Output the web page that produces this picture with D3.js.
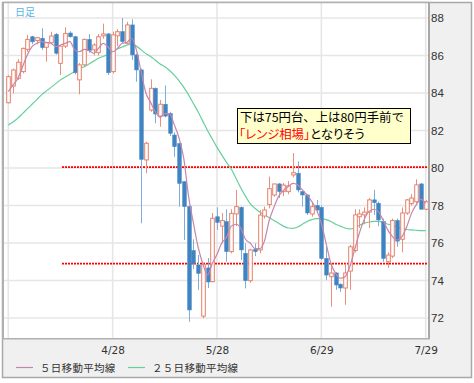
<!DOCTYPE html>
<html><head><meta charset="utf-8">
<script src="https://cdn.jsdelivr.net/npm/d3@7/dist/d3.min.js"></script>
<style>body{margin:0;background:#f0f0f0}svg{display:block}.palt{font-feature-settings:"palt" 1}</style>
</head><body><svg id="c" width="474" height="383"></svg>
<script>
// ---- data ----
const opens  = [83.48,84.37,84.78,85.14,86.33,87.0,86.8,86.92,86.44,86.68,87.13,85.58,86.5,87.2,87.0,84.7,85.5,86.86,86.3,86.15,87.05,87.15,85.14,87.05,87.27,86.65,87.63,86.03,85.23,80.43,83.09,84.25,82.77,83.4,82.9,81.76,81.3,79.27,77.94,75.6,74.83,72.1,74.67,73.94,77.4,76.9,77.14,75.54,77.55,77.9,75.45,73.99,75.66,75.63,77.44,78.05,78.56,79.15,78.74,78.74,79.63,79.72,78.74,78.56,77.55,78.0,77.9,75.18,74.2,74.4,73.8,73.6,74.5,75.6,77.4,77.5,77.65,78.3,78.12,77.14,75.0,75.3,77.2,76.2,77.6,78.1,78.2,79.15,77.8];
const highs  = [84.95,85.3,85.8,86.42,87.1,87.05,87.0,87.45,86.72,87.27,87.2,86.55,87.5,87.3,87.05,85.6,86.9,87.14,86.65,87.15,87.7,87.2,87.27,87.4,88.0,87.8,87.93,86.1,85.3,81.4,84.73,84.3,83.63,84.4,83.0,81.9,81.35,79.3,78.0,76.2,75.36,74.95,75.2,77.6,77.9,77.6,77.8,77.8,78.83,77.95,75.98,75.7,75.98,77.76,77.94,79.54,79.0,79.2,79.2,79.3,80.8,80.35,78.8,78.6,78.2,78.3,78.0,75.8,74.9,74.45,73.85,74.9,75.9,77.8,77.8,77.9,78.4,78.83,78.2,77.3,75.5,77.3,77.3,77.9,78.35,78.6,79.4,79.2,78.3];
const lows   = [83.45,83.98,84.7,85.05,86.2,86.6,86.6,86.3,85.67,86.6,86.05,84.96,86.4,86.95,85.0,83.93,85.45,86.15,86.0,86.0,86.9,84.96,85.05,86.5,86.65,86.6,85.76,84.6,77.05,79.72,83.0,82.38,82.2,82.7,81.7,80.6,77.94,76.16,71.8,74.6,73.5,71.98,73.6,73.9,76.7,75.98,75.0,75.45,76.9,75.09,73.58,73.88,75.3,75.45,77.3,77.85,78.47,78.4,78.5,78.6,79.5,78.7,77.94,77.5,77.4,77.6,75.09,74.03,72.6,73.5,73.4,72.7,73.5,75.5,76.8,77.0,76.8,77.5,76.9,75.0,74.67,75.2,75.8,75.5,77.5,78.0,78.1,77.8,77.75];
const closes = [84.87,85.23,85.64,86.38,86.86,86.73,86.95,86.42,86.68,87.04,86.12,86.5,87.18,87.0,85.08,85.5,86.86,86.26,86.56,87.0,87.15,85.08,87.1,87.27,86.74,87.63,86.03,85.23,80.46,81.32,84.25,82.88,83.4,82.77,81.85,81.14,79.18,77.94,72.43,74.9,74.38,74.85,73.92,77.32,77.1,77.2,75.54,77.58,77.94,75.63,73.99,75.63,75.54,77.49,77.76,78.9,79.15,78.74,79.09,79.05,79.75,78.83,78.56,77.6,77.94,77.76,75.18,74.29,74.4,73.76,73.6,74.4,75.8,77.5,77.55,77.65,78.3,78.15,77.23,75.18,75.36,77.2,76.1,77.6,78.3,78.4,79.1,77.8,78.2];
const ma5  = [84.07,84.43,84.78,85.4,86.03,86.47,86.65,86.74,86.7,86.65,86.47,86.56,86.65,86.74,86.3,86.2,86.33,86.26,86.12,86.38,86.65,86.47,86.2,86.38,86.65,86.7,86.92,86.3,85.14,84.0,83.5,83.0,82.7,82.9,82.9,82.3,81.6,80.5,78.5,77.1,75.8,74.9,74.3,74.9,75.4,76.0,76.3,76.9,77.0,76.8,76.2,76.0,75.7,75.7,76.1,77.2,77.9,78.5,78.8,79.0,79.18,79.1,78.83,78.56,78.2,77.76,77.05,75.98,74.92,74.38,74.12,74.2,74.74,75.63,76.52,77.23,77.67,77.8,77.67,77.23,76.7,76.34,76.16,76.34,76.87,77.58,78.03,78.33,78.12];
const ma25 = [82.3,82.45,82.65,82.9,83.15,83.4,83.65,83.9,84.1,84.3,84.5,84.7,84.85,85.0,85.15,85.3,85.4,85.55,85.7,85.85,85.95,86.05,86.2,86.35,86.45,86.55,86.6,86.5,86.3,86.1,85.95,85.75,85.55,85.4,85.2,84.95,84.65,84.3,83.9,83.45,83.0,82.5,82.0,81.55,81.1,80.7,80.3,79.95,79.45,78.95,78.5,78.1,77.85,77.65,77.5,77.35,77.2,77.05,76.9,76.8,76.78,76.85,77.0,77.15,77.25,77.3,77.3,77.25,77.15,77.0,76.9,76.8,76.75,76.8,76.95,77.05,77.12,77.15,77.15,77.1,77.0,76.95,76.85,76.78,76.72,76.7,76.68,76.66,76.66];
const tickIdx    = [0, 22, 44, 66, 88];
const tickLabels = ["", "4/28", "5/28", "6/29", "7/29"];
const yTicks     = [72, 74, 76, 78, 80, 82, 84, 86, 88];
const rangeLines = [80.05, 74.9];
const legendNames = ["５日移動平均線", "２５日移動平均線"];
const noteLine1 = "下は75円台、上は80円手前で";
const noteRed = "「レンジ相場」";
const noteRest = "となりそう";

// ---- drawing ----
const svg = d3.select("#c");
const W = 474, H = 383;
const P = {l: 4, t: 3, r: 428, b: 338};
const x = d3.scaleLinear().domain([0, opens.length - 1]).range([8.3, 425.7]);
const y = d3.scaleLinear().domain([72, 88]).range([318, 18]);

svg.append("rect").attr("x",0).attr("y",0).attr("width",W).attr("height",H).attr("fill","#ffffff");
svg.append("rect").attr("x",2.5).attr("y",2.5).attr("width",469).attr("height",375)
  .attr("fill","#f0f0f0").attr("stroke","#a8a8a8").attr("stroke-width",1.5);
svg.append("rect").attr("x",P.l).attr("y",P.t).attr("width",P.r-P.l).attr("height",P.b-P.t)
  .attr("fill","#ffffff");

svg.append("defs").append("clipPath").attr("id","clip")
  .append("rect").attr("x",P.l).attr("y",P.t).attr("width",P.r-P.l).attr("height",P.b-P.t);

const g = svg.append("g").attr("clip-path","url(#clip)");

// grid
g.selectAll(".hg").data(yTicks).join("line")
  .attr("x1",P.l).attr("x2",P.r).attr("y1",d=>y(d)).attr("y2",d=>y(d))
  .attr("stroke","#e6e6e6").attr("stroke-width",1.6);
g.selectAll(".vg").data(tickIdx).join("line")
  .attr("x1",d=>x(d)).attr("x2",d=>x(d)).attr("y1",P.t).attr("y2",P.b)
  .attr("stroke","#e6e6e6").attr("stroke-width",1.6);

// range lines
g.selectAll(".rl").data(rangeLines).join("line")
  .attr("x1",62).attr("x2",P.r).attr("y1",d=>y(d)).attr("y2",d=>y(d))
  .attr("stroke","#ff0000").attr("stroke-width",1.8).attr("stroke-dasharray","2,1");

// MA lines
const line = d3.line().x((d,i)=>x(i)).y(d=>y(d)).curve(d3.curveMonotoneX);
g.append("path").attr("d",line(ma25)).attr("fill","none").attr("stroke","#66cf9c").attr("stroke-width",1.2);

// candles
const idx = d3.range(opens.length);
const up = i => closes[i] >= opens[i];
const bw = 3.6;
g.selectAll(".wick").data(idx).join("line")
  .attr("x1",i=>Math.round(x(i))+0.5).attr("x2",i=>Math.round(x(i))+0.5)
  .attr("y1",i=>y(highs[i])).attr("y2",i=>y(lows[i]))
  .attr("stroke",i=>up(i)?"#e8907c":"#7eaed9").attr("stroke-width",1);
g.selectAll(".body").data(idx).join("rect")
  .attr("x",i=>Math.round(x(i))+0.5-bw/2)
  .attr("y",i=>y(Math.max(opens[i],closes[i])))
  .attr("width",bw)
  .attr("height",i=>Math.max(1,Math.abs(y(opens[i])-y(closes[i]))))
  .attr("fill",i=>up(i)?"#ffffff":"#3f83c1")
  .attr("stroke",i=>up(i)?"#e6806a":"#4a8cc8")
  .attr("stroke-width",i=>up(i)?1:0.6);

g.append("path").attr("d",line(ma5)).attr("fill","none").attr("stroke","#c984ab").attr("stroke-width",1.2);

// plot border
svg.append("line").attr("x1",P.l-1).attr("x2",P.l-1).attr("y1",P.t).attr("y2",P.b+1).attr("stroke","#b0b0b0").attr("stroke-width",2);
svg.append("line").attr("x1",P.l).attr("x2",P.r+1).attr("y1",P.t-0.5).attr("y2",P.t-0.5).attr("stroke","#b0b0b0").attr("stroke-width",1.5);
svg.append("line").attr("x1",P.r+1).attr("x2",P.r+1).attr("y1",P.t).attr("y2",P.b+1).attr("stroke","#a8a8a8").attr("stroke-width",2);
svg.append("line").attr("x1",P.l-2).attr("x2",P.r+2).attr("y1",P.b+0.8).attr("y2",P.b+0.8).attr("stroke","#b0b0b0").attr("stroke-width",1.6);

// y axis (right)
const ya = svg.append("g").attr("transform",`translate(${P.r+2},0)`)
  .call(d3.axisRight(y).tickValues(yTicks).tickSize(0).tickPadding(1).tickFormat(d3.format("d")));
ya.select(".domain").remove();
ya.selectAll("text").attr("fill","#333").style("font-family","'Liberation Sans',Arial,sans-serif").style("font-size","11.5px");

// x axis labels
const xa = svg.append("g").attr("transform",`translate(0,${P.b+6})`)
  .call(d3.axisBottom(x).tickValues(tickIdx).tickSize(0).tickPadding(3).tickFormat((d,i)=>tickLabels[i]));
xa.select(".domain").remove();
xa.selectAll("text").attr("fill","#333").style("font-family","'DejaVu Sans',sans-serif").style("font-size","10.5px");

// 日足 label
svg.append("text").attr("x",15).attr("y",15.5).text("日足")
  .attr("fill","#55b6e6").style("font-family","'Noto Sans CJK JP',sans-serif").style("font-size","10px");

// legend
const legCols = ["#c984ab", "#66cf9c"];
const legX = [16, 128];
legendNames.forEach((n,i)=>{
  svg.append("line").attr("x1",legX[i]).attr("x2",legX[i]+17).attr("y1",367.5).attr("y2",367.5)
    .attr("stroke",legCols[i]).attr("stroke-width",1.2);
  svg.append("text").attr("x",legX[i]+24).attr("y",371.5).text(n)
    .attr("fill","#333").attr("letter-spacing","0.3px")
    .style("font-family","'Noto Sans CJK JP',sans-serif").style("font-size","10.5px");
});

// annotation
svg.append("rect").attr("x",237.5).attr("y",108.5).attr("width",173).attr("height",35)
  .attr("fill","#ffffcc").attr("stroke","#000").attr("stroke-width",1);
const tf = "'Noto Sans CJK JP',sans-serif";
svg.append("text").attr("x",240).attr("y",122).text(noteLine1)
  .attr("fill","#000").style("font-family",tf).style("font-size","12.4px");
const t2 = svg.append("text").attr("class","palt").attr("x",239).attr("y",138.5)
  .style("font-family",tf).style("font-size","12.4px");
t2.append("tspan").attr("fill","#ff0000").text(noteRed);
t2.append("tspan").attr("fill","#000").text(noteRest);
</script></body></html>
